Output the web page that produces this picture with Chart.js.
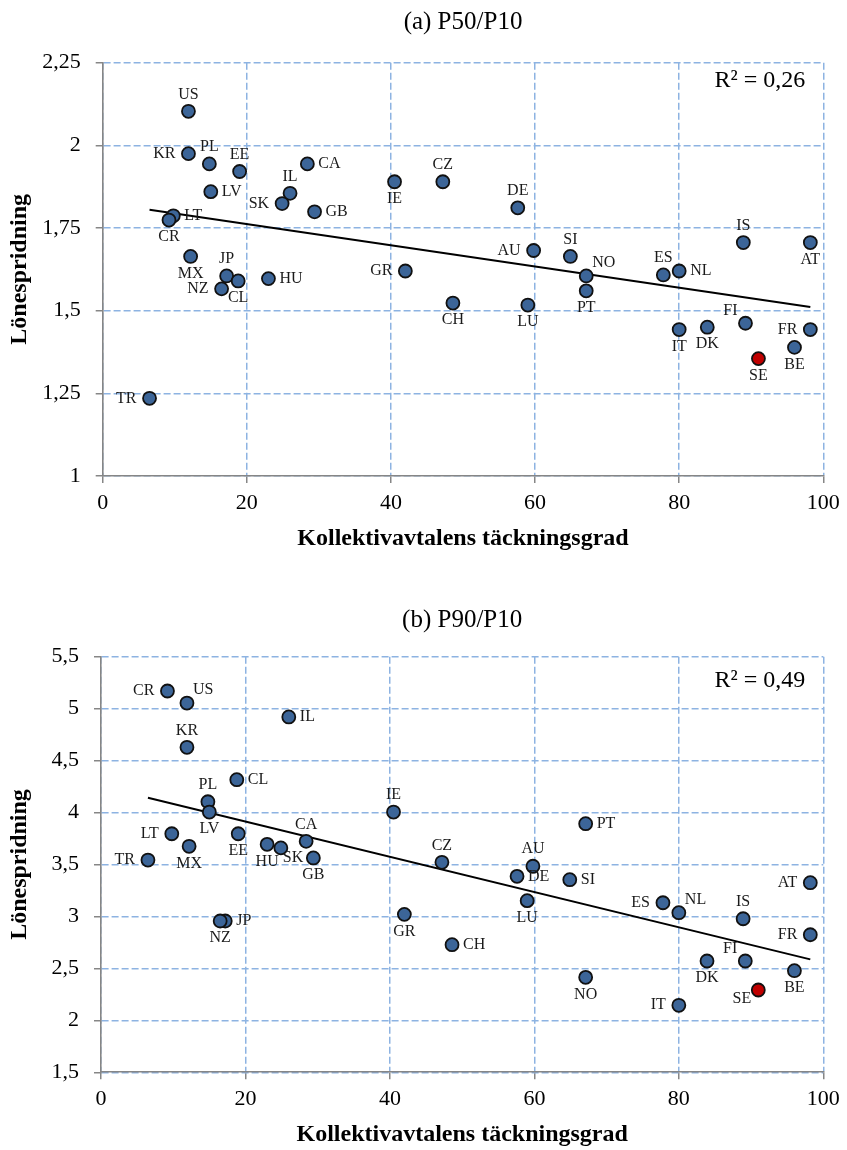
<!DOCTYPE html>
<html lang="sv">
<head>
<meta charset="utf-8">
<title>Lönespridning och kollektivavtalens täckningsgrad</title>
<script src="https://cdn.jsdelivr.net/npm/chart.js@4.4.1/dist/chart.umd.min.js"></script>
<style>
  html, body { margin: 0; padding: 0; background: #fff; }
  #sida { position: relative; width: 847px; height: 1150px; }
  .ruta { position: absolute; left: 0; width: 847px; }
  #rutaA { top: 0; height: 560px; }
  #rutaB { top: 560px; height: 590px; }
</style>
</head>
<body>
<div id="sida">
  <div class="ruta" id="rutaA"><canvas id="diagramA" width="847" height="560"></canvas></div>
  <div class="ruta" id="rutaB"><canvas id="diagramB" width="847" height="590"></canvas></div>
</div>
<script>
// Data
const lander = ["US","KR","PL","EE","LV","IL","SK","LT","CR","MX","JP","CL","NZ","HU","TR","CA","IE","CZ","GB","DE",
  "AU","SI","GR","CH","LU","NO","PT","ES","NL","IT","DK","FI","FR","BE","SE","IS","AT"];
const tackningsgrad = [11.9, 11.9, 14.8, 19.0, 15.0, 26.0, 24.9, 9.8, 9.2, 12.2, 17.2, 18.8, 16.5, 23.0, 6.5, 28.4, 40.5, 47.2, 29.4, 57.6,
  59.8, 64.9, 42.0, 48.6, 59.0, 67.1, 67.1, 77.8, 80.0, 80.0, 83.9, 89.2, 98.2, 96.0, 91.0, 88.9, 98.2];
const p50p10 = [2.103, 1.975, 1.944, 1.921, 1.860, 1.855, 1.824, 1.787, 1.774, 1.664, 1.605, 1.590, 1.566, 1.597, 1.235, 1.944, 1.890, 1.890, 1.799, 1.811,
  1.682, 1.664, 1.620, 1.523, 1.517, 1.605, 1.560, 1.608, 1.620, 1.443, 1.450, 1.462, 1.443, 1.389, 1.355, 1.706, 1.706];
const p90p10 = [5.054, 4.628, 4.104, 3.796, 4.005, 4.920, 3.660, 3.796, 5.170, 3.675, 2.956, 4.316, 2.956, 3.694, 3.543, 3.723, 4.005, 3.521, 3.563, 3.386,
  3.483, 3.354, 3.020, 2.728, 3.152, 2.414, 3.893, 3.132, 3.036, 2.145, 2.571, 2.571, 2.824, 2.478, 2.292, 2.978, 3.325];

// Trendlinjer (start- och slutpunkt)
const trendX = [6.5, 98.2];
const trendA = [1.805, 1.511];
const trendB = [4.143, 2.587];

// Axelmarkeringar
const xTicks = [0, 20, 40, 60, 80, 100];
const yTicksA = [1, 1.25, 1.5, 1.75, 2, 2.25];
const yTicksB = [1.5, 2, 2.5, 3, 3.5, 4, 4.5, 5, 5.5];

// Var etiketten ska stå i förhållande till punkten
const placA = ["t","l","t","t","r","t","l","r","b","b","t","b","l","r","l","r","b","t","r","t",
  "l","t","l","b","b","tr","b","t","r","b","b","tl","l","b","b","t","b"];
const placB = ["tr","t","t","b","b","r","br","l","l","b","r","r","b","b","l","t","t","t","b","r",
  "t","r","b","r","b","b","r","l","tr","l","b","tl","l","b","bl","t","l"];

const typsnitt = "'Liberation Serif', 'Times New Roman', serif";
const gridFarg = "#8DB3E2";
const axelFarg = "#868686";

Chart.defaults.font.family = typsnitt;
Chart.defaults.color = "#000";

// Förskjutningar för etiketterna
const forskjutning = {
  t:  { dx: 0,   dy: -17, align: "center" },
  b:  { dx: 0,   dy: 17,  align: "center" },
  l:  { dx: -13, dy: 0,   align: "right" },
  r:  { dx: 11,  dy: 0,   align: "left" },
  tr: { dx: 6,   dy: -13, align: "left" },
  tl: { dx: -8,  dy: -12, align: "right" },
  br: { dx: 2,   dy: 10,  align: "left" },
  bl: { dx: -7,  dy: 9,   align: "right" }
};

// Plugin som skriver landkoder, rubrik och R²
const etikettPlugin = {
  id: "etiketter",
  afterDatasetsDraw(chart, args, opts) {
    const ctx = chart.ctx;
    const area = chart.chartArea;
    const meta = chart.getDatasetMeta(0);
    ctx.save();
    ctx.font = "16px " + typsnitt;
    ctx.fillStyle = "#1a1a1a";
    ctx.textBaseline = "middle";
    meta.data.forEach((punkt, i) => {
      const f = forskjutning[opts.placering[i]];
      ctx.textAlign = f.align;
      ctx.fillText(lander[i], punkt.x + f.dx, punkt.y + f.dy);
    });
    // R²
    ctx.font = "24px " + typsnitt;
    ctx.fillStyle = "#000";
    ctx.textAlign = "right";
    ctx.fillText(opts.r2, area.right - 18, area.top + opts.r2Y);
    // Rubrik
    ctx.font = "25px " + typsnitt;
    ctx.textAlign = "center";
    ctx.fillText(opts.rubrik, (area.left + area.right) / 2, opts.rubrikY);
    ctx.restore();
  }
};

function ritaDiagram(id, yVarden, trendY, yTicks, inst) {
  const punkter = tackningsgrad.map((x, i) => ({ x: x, y: yVarden[i] }));
  const linje = trendX.map((x, i) => ({ x: x, y: trendY[i] }));
  const hojd = document.getElementById(id).height;

  return new Chart(document.getElementById(id).getContext("2d"), {
    type: "scatter",
    data: {
      datasets: [
        {
          data: punkter,
          pointRadius: 6.5,
          pointBorderWidth: 1.8,
          pointBorderColor: "#111",
          pointBackgroundColor: (c) => lander[c.dataIndex] === "SE" ? "#C00000" : "#3C6598",
          order: 1
        },
        {
          data: linje,
          showLine: true,
          borderColor: "#000",
          borderWidth: 2,
          pointRadius: 0,
          fill: false,
          order: 2
        }
      ]
    },
    options: {
      responsive: false,
      animation: false,
      events: [],
      layout: { padding: { top: inst.top, right: 23.7, left: 0, bottom: 0 } },
      plugins: {
        legend: { display: false },
        tooltip: { enabled: false },
        etiketter: { placering: inst.placering, rubrik: inst.rubrik, rubrikY: inst.rubrikY, r2: inst.r2, r2Y: inst.r2Y }
      },
      scales: {
        x: {
          type: "linear",
          min: 0,
          max: 100,
          afterBuildTicks: (s) => { s.ticks = xTicks.map((v) => ({ value: v })); },
          afterFit: (s) => { s.height = hojd - inst.bottom; },
          ticks: { font: { size: 22 }, color: "#000", padding: 7 },
          grid: { color: gridFarg, lineWidth: 1.5, tickColor: axelFarg, tickLength: 7, tickWidth: 1.5 },
          border: { color: axelFarg, width: 1.6, dash: [7, 3] },
          title: {
            display: true,
            text: "Kollektivavtalens täckningsgrad",
            font: { size: 24, weight: "bold" },
            color: "#000",
            padding: { top: 0, bottom: inst.xTitelPad }
          }
        },
        y: {
          type: "linear",
          min: yTicks[0],
          max: yTicks[yTicks.length - 1],
          afterBuildTicks: (s) => { s.ticks = yTicks.map((v) => ({ value: v })); },
          afterFit: (s) => { s.width = inst.left; },
          ticks: {
            font: { size: 22 },
            color: "#000",
            padding: 15,
            callback: (v) => String(v).replace(".", ",")
          },
          grid: { color: gridFarg, lineWidth: 1.5, tickColor: axelFarg, tickLength: 7, tickWidth: 1.5 },
          border: { color: axelFarg, width: 1.6, dash: [7, 3] },
          title: {
            display: true,
            text: "Lönespridning",
            font: { size: 24, weight: "bold" },
            color: "#000",
            padding: { top: 5, bottom: 0 }
          }
        }
      }
    },
    plugins: [etikettPlugin]
  });
}

ritaDiagram("diagramA", p50p10, trendA, yTicksA, {
  top: 62.7, bottom: 476, left: 102.7, xTitelPad: 7,
  placering: placA, rubrik: "(a) P50/P10", rubrikY: 22, r2: "R² = 0,26", r2Y: 18
});

ritaDiagram("diagramB", p90p10, trendB, yTicksB, {
  top: 96.7, bottom: 512.3, left: 101, xTitelPad: 1,
  placering: placB, rubrik: "(b) P90/P10", rubrikY: 60, r2: "R² = 0,49", r2Y: 24
});
</script>
</body>
</html>
